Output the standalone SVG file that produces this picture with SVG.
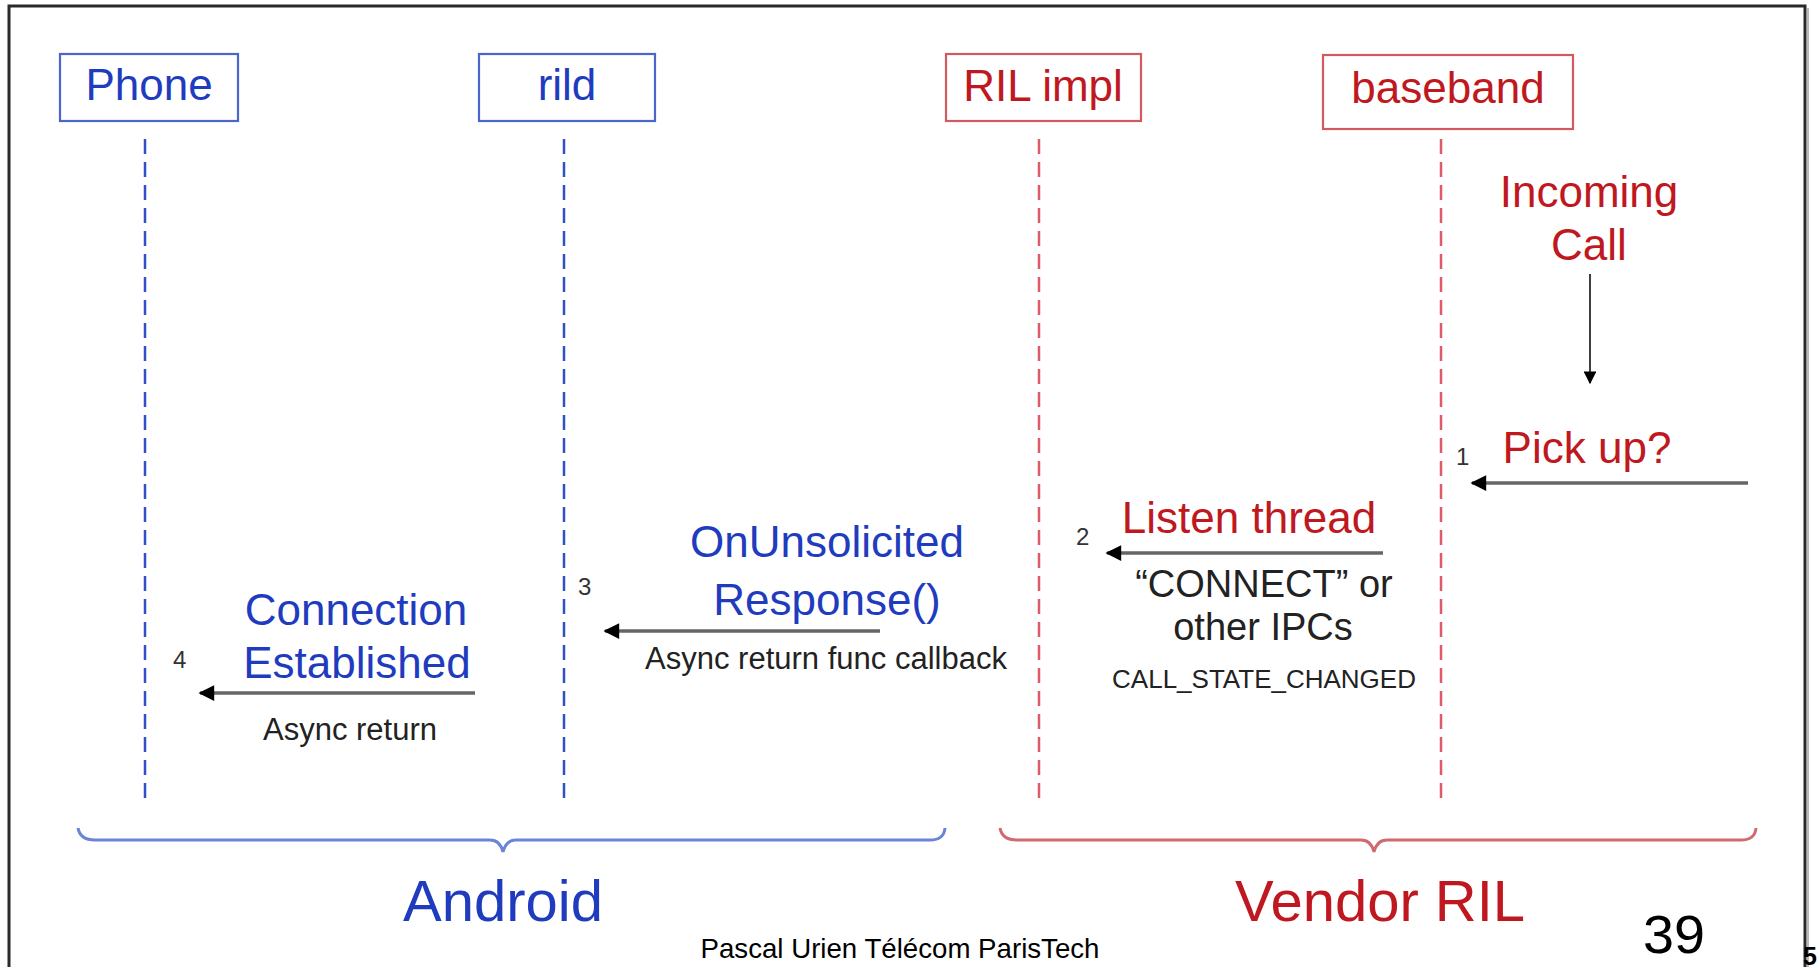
<svg xmlns="http://www.w3.org/2000/svg" width="1818" height="967" viewBox="0 0 1818 967">
<defs>
<style>
text{font-family:"Liberation Sans",Arial,Helvetica,sans-serif}
.box-b{fill:#fff;stroke:#4a66cc;stroke-width:2.2}
.box-r{fill:#fff;stroke:#d05a60;stroke-width:2.2}
.tb{fill:#1f3cbf}
.tr{fill:#c01820}
.big{font-size:44px;text-anchor:middle}
.mid{font-size:38px;text-anchor:middle;fill:#222}
.small{font-size:30px;text-anchor:middle;fill:#222}
.num{font-size:24px;fill:#333}
.life-b{stroke:#3050c8;stroke-width:2.5;stroke-dasharray:15 8;fill:none}
.life-r{stroke:#dd5a68;stroke-width:2.5;stroke-dasharray:15 8;fill:none}
.msg{stroke:#666;stroke-width:3.5;fill:none;marker-end:url(#ah)}
.brace-b{stroke:#6a84d8;stroke-width:3;fill:none}
.brace-r{stroke:#d06a6e;stroke-width:3;fill:none}
</style>
<marker id="ah" viewBox="0 0 10 10" refX="9" refY="5" markerWidth="5" markerHeight="4.5" markerUnits="strokeWidth" orient="auto">
<path d="M0,0 L10,5 L0,10 z" fill="#000"/>
</marker>
<marker id="ah2" viewBox="0 0 10 10" refX="9" refY="5" markerWidth="9" markerHeight="8" markerUnits="strokeWidth" orient="auto">
<path d="M0,0 L10,5 L0,10 z" fill="#000"/>
</marker>
</defs>
<rect x="0" y="0" width="1818" height="967" fill="#fff"/>
<rect x="9" y="6" width="1796" height="1000" fill="none" stroke="#2a2a2a" stroke-width="3"/>
<line x1="1808" y1="8" x2="1808" y2="967" stroke="#bbb" stroke-width="2"/>

<g id="phone">
<rect class="box-b" x="60" y="54" width="178" height="67"/>
<text class="big tb" x="149" y="100">Phone</text>
<line class="life-b" x1="145" y1="139" x2="145" y2="798"/>
</g>
<g id="rild">
<rect class="box-b" x="479" y="54" width="176" height="67"/>
<text class="big tb" x="567" y="100">rild</text>
<line class="life-b" x1="564" y1="139" x2="564" y2="798"/>
</g>
<g id="rilimpl">
<rect class="box-r" x="946" y="54" width="195" height="67"/>
<text class="big tr" x="1043" y="101">RIL impl</text>
<line class="life-r" x1="1039" y1="139" x2="1039" y2="798"/>
</g>
<g id="baseband">
<rect class="box-r" x="1323" y="55" width="250" height="74"/>
<text class="big tr" x="1448" y="103">baseband</text>
<line class="life-r" x1="1441" y1="139" x2="1441" y2="798"/>
</g>

<g id="connectors">
<line x1="1590" y1="274" x2="1590" y2="383" stroke="#111" stroke-width="1.6" marker-end="url(#ah2)"/>
<line class="msg" x1="1748" y1="483" x2="1472" y2="483"/>
<line class="msg" x1="1383" y1="553" x2="1107" y2="553"/>
<line class="msg" x1="880" y1="631" x2="605" y2="631"/>
<line class="msg" x1="475" y1="693" x2="200" y2="693"/>
</g>

<g id="labels">
<text class="big tr" x="1589" y="207">Incoming</text>
<text class="big tr" x="1589" y="260">Call</text>
<text class="num" x="1456" y="465">1</text>
<text class="big tr" x="1587" y="463">Pick up?</text>
<text class="num" x="1076" y="545">2</text>
<text class="big tr" x="1249" y="533">Listen thread</text>
<text class="mid" x="1264" y="597">“CONNECT” or</text>
<text class="mid" x="1263" y="640">other IPCs</text>
<text class="small" x="1264" y="688" style="font-size:26px">CALL_STATE_CHANGED</text>
<text class="num" x="578" y="595">3</text>
<text class="big tb" x="827" y="557">OnUnsolicited</text>
<text class="big tb" x="827" y="615">Response()</text>
<text class="small" x="826" y="669" style="font-size:31px">Async return func callback</text>
<text class="num" x="173" y="668">4</text>
<text class="big tb" x="356" y="625">Connection</text>
<text class="big tb" x="357" y="678">Established</text>
<text class="small" x="350" y="740" style="font-size:31px">Async return</text>
</g>

<g id="android">
<path class="brace-b" d="M78,828 Q80,840 95,840 L490,840 Q500,840 503,852 Q506,840 516,840 L930,840 Q944,840 945,828"/>
<text class="tb" x="503" y="921" style="font-size:58px;text-anchor:middle">Android</text>
</g>
<g id="vendor">
<path class="brace-r" d="M1000,828 Q1002,840 1017,840 L1361,840 Q1371,840 1374,852 Q1377,840 1387,840 L1741,840 Q1755,840 1756,828"/>
<text class="tr" x="1380" y="921" style="font-size:58px;text-anchor:middle">Vendor RIL</text>
</g>

<text x="900" y="958" style="font-size:28px;text-anchor:middle;fill:#000" textLength="399" lengthAdjust="spacingAndGlyphs">Pascal Urien Télécom ParisTech</text>
<text x="1674" y="953" style="font-size:54px;text-anchor:middle;fill:#000" textLength="62" lengthAdjust="spacingAndGlyphs">39</text>
<text x="1803" y="965" style="font-size:25px;font-weight:bold;fill:#000">5</text>
</svg>
